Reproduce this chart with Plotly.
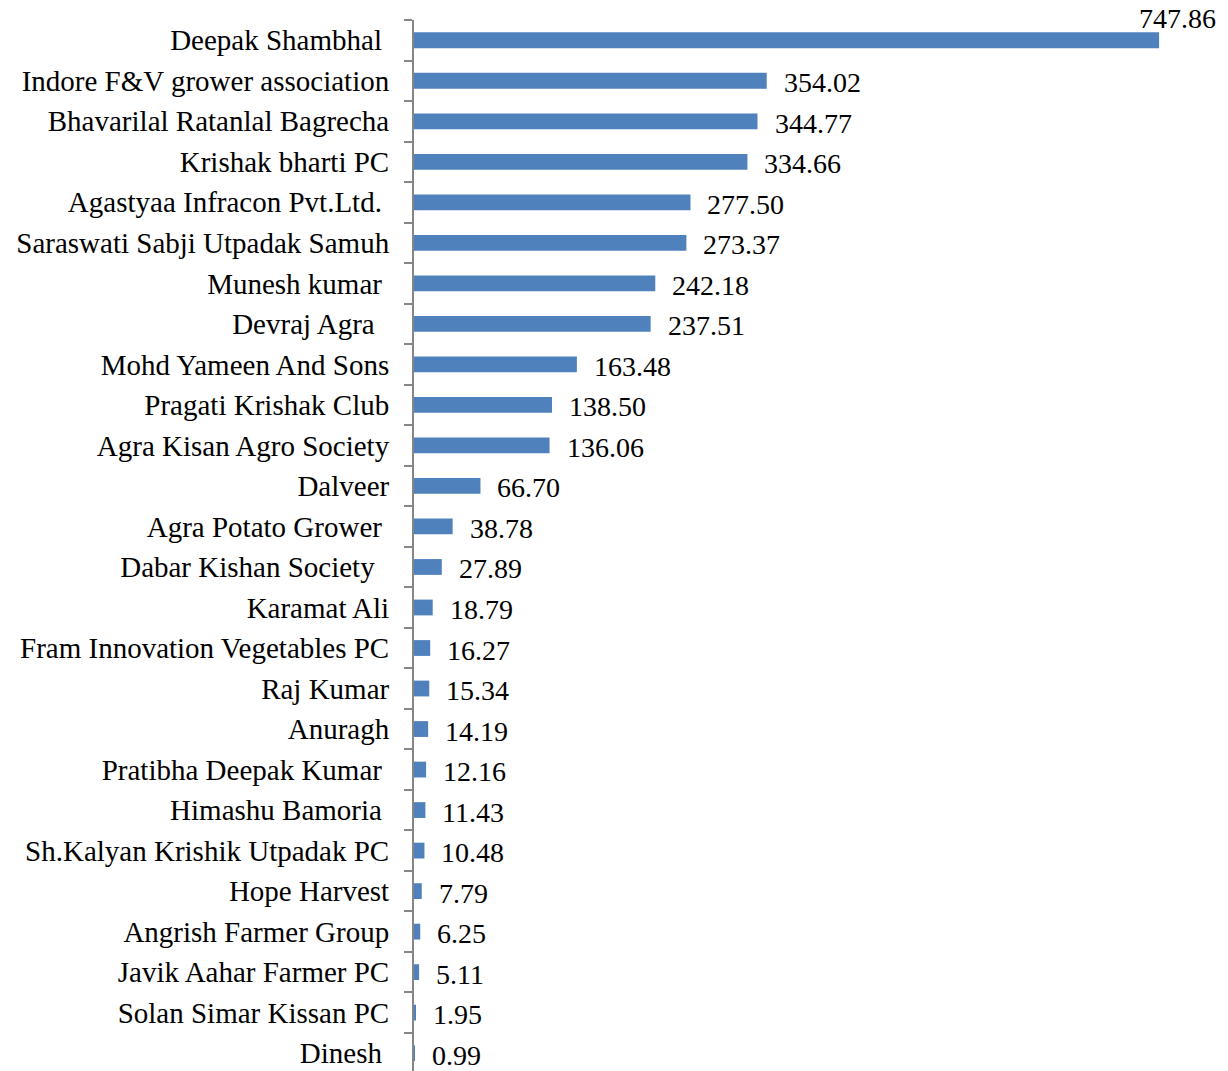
import plotly.graph_objects as go

NBSP = "\u00a0"
categories = [
    "Deepak Shambhal" + NBSP,
    "Indore F&V grower association",
    "Bhavarilal Ratanlal Bagrecha",
    "Krishak bharti PC",
    "Agastyaa Infracon Pvt.Ltd." + NBSP,
    "Saraswati Sabji Utpadak Samuh",
    "Munesh kumar" + NBSP,
    "Devraj Agra" + NBSP + NBSP,
    "Mohd Yameen And Sons",
    "Pragati Krishak Club",
    "Agra Kisan Agro Society",
    "Dalveer",
    "Agra Potato Grower" + NBSP,
    "Dabar Kishan Society" + NBSP + NBSP,
    "Karamat Ali",
    "Fram Innovation Vegetables PC",
    "Raj Kumar",
    "Anuragh",
    "Pratibha Deepak Kumar" + NBSP,
    "Himashu Bamoria" + NBSP,
    "Sh.Kalyan Krishik Utpadak PC",
    "Hope Harvest",
    "Angrish Farmer Group",
    "Javik Aahar Farmer PC",
    "Solan Simar Kissan PC",
    "Dinesh" + NBSP,
]
values = [747.86, 354.02, 344.77, 334.66, 277.50, 273.37, 242.18, 237.51,
          163.48, 138.50, 136.06, 66.70, 38.78, 27.89, 18.79, 16.27, 15.34,
          14.19, 12.16, 11.43, 10.48, 7.79, 6.25, 5.11, 1.95, 0.99]

FONT = "Liberation Serif"
FS_LABEL = 29
FS_VALUE = 28

fig = go.Figure(go.Bar(
    x=values, y=categories, orientation="h",
    marker=dict(color="#4F81BD", line=dict(width=0)),
    hoverinfo="skip",
))

annotations = []
for i, (c, v) in enumerate(zip(categories, values)):
    if i == 0:
        xs, ys = -22, 22
    else:
        xs, ys = 15, -2
    annotations.append(dict(
        x=v, y=c, xref="x", yref="y", text=f"{v:.2f}", showarrow=False,
        xanchor="left", yanchor="middle", xshift=xs, yshift=ys,
        font=dict(family=FONT, size=FS_VALUE, color="#000000"),
    ))

fig.update_layout(
    width=1220, height=1063,
    margin=dict(l=406, r=0, t=12, b=0, pad=0),
    paper_bgcolor="white", plot_bgcolor="white",
    bargap=0.61,
    showlegend=False,
    annotations=annotations,
    font=dict(family=FONT, size=FS_LABEL, color="#000000"),
)
fig.update_xaxes(range=[0, 817], visible=False, showgrid=False, zeroline=False)
fig.update_yaxes(
    type="category", categoryorder="array", categoryarray=categories,
    range=[25.44, -0.5],
    showline=True, linecolor="#868686", linewidth=2,
    ticks="outside", tickson="boundaries", ticklen=8, tickcolor="#868686", tickwidth=2,
    showgrid=False, zeroline=False, automargin=False,
    tickfont=dict(family=FONT, size=FS_LABEL, color="#000000"),
    ticklabelstandoff=17,
)

fig.write_html("out.html")
